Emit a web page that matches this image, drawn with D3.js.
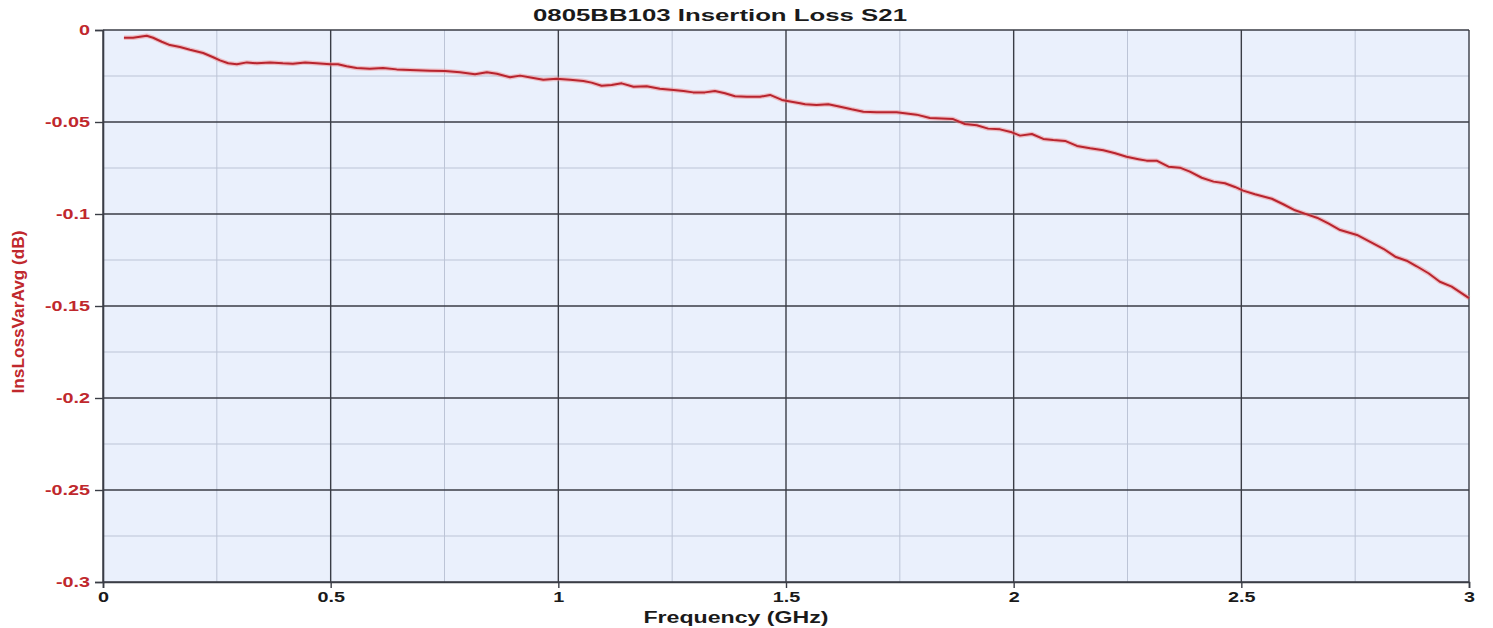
<!DOCTYPE html>
<html>
<head>
<meta charset="utf-8">
<script src="https://cdn.jsdelivr.net/npm/d3@7"></script>
<style>
  html, body { margin: 0; padding: 0; background: #ffffff; }
  svg { display: block; }
  text { font-family: "Liberation Sans", Arial, Helvetica, sans-serif; }
</style>
</head>
<body>
<svg id="chart" width="1493" height="628"></svg>
<script>
// Measured insertion loss of the 0805BB103 part, frequency in GHz, loss in dB
const freqGHz = [
  0.046, 0.066, 0.096, 0.110, 0.129, 0.147, 0.169, 0.191, 0.220, 0.242,
  0.257, 0.275, 0.294, 0.316, 0.338, 0.367, 0.395, 0.417, 0.444, 0.469,
  0.499, 0.516, 0.535, 0.557, 0.586, 0.615, 0.645, 0.674, 0.718, 0.751,
  0.784, 0.817, 0.843, 0.865, 0.894, 0.916, 0.942, 0.967, 0.996, 1.026,
  1.055, 1.073, 1.095, 1.117, 1.139, 1.165, 1.194, 1.223, 1.253, 1.275,
  1.296, 1.322, 1.344, 1.366, 1.388, 1.414, 1.443, 1.465, 1.491, 1.509,
  1.531, 1.542, 1.567, 1.593, 1.619, 1.644, 1.670, 1.699, 1.743, 1.787,
  1.816, 1.867, 1.893, 1.919, 1.944, 1.970, 1.996, 2.014, 2.040, 2.065,
  2.087, 2.113, 2.139, 2.168, 2.197, 2.223, 2.248, 2.274, 2.292, 2.314,
  2.340, 2.365, 2.387, 2.413, 2.439, 2.464, 2.486, 2.504, 2.530, 2.567,
  2.592, 2.618, 2.644, 2.666, 2.691, 2.717, 2.754, 2.783, 2.812, 2.838,
  2.863, 2.885, 2.911, 2.936, 2.962, 3.000
];
const insLossDB = [
  -0.0042, -0.0042, -0.0031, -0.0042, -0.0064, -0.0082, -0.0092, -0.0107, -0.0125, -0.0148,
  -0.0165, -0.0181, -0.0186, -0.0176, -0.0181, -0.0176, -0.0181, -0.0183, -0.0176, -0.0181,
  -0.0186, -0.0186, -0.0197, -0.0207, -0.0210, -0.0207, -0.0214, -0.0217, -0.0221, -0.0223,
  -0.0230, -0.0241, -0.0230, -0.0238, -0.0257, -0.0248, -0.0259, -0.0270, -0.0265, -0.0270,
  -0.0277, -0.0286, -0.0303, -0.0299, -0.0290, -0.0308, -0.0306, -0.0319, -0.0326, -0.0332,
  -0.0339, -0.0339, -0.0332, -0.0344, -0.0360, -0.0363, -0.0363, -0.0353, -0.0380, -0.0388,
  -0.0398, -0.0404, -0.0408, -0.0404, -0.0417, -0.0431, -0.0444, -0.0447, -0.0447, -0.0460,
  -0.0478, -0.0484, -0.0511, -0.0518, -0.0536, -0.0540, -0.0556, -0.0574, -0.0565, -0.0592,
  -0.0598, -0.0603, -0.0630, -0.0643, -0.0654, -0.0670, -0.0689, -0.0702, -0.0710, -0.0710,
  -0.0743, -0.0748, -0.0770, -0.0803, -0.0824, -0.0833, -0.0853, -0.0873, -0.0893, -0.0917,
  -0.0947, -0.0980, -0.1002, -0.1020, -0.1051, -0.1087, -0.1114, -0.1151, -0.1189, -0.1232,
  -0.1254, -0.1284, -0.1322, -0.1368, -0.1395, -0.1457
];

// Axis ticks
const xMajorTicks = [0, 0.5, 1, 1.5, 2, 2.5, 3];
const xMinorTicks = [0.25, 0.75, 1.25, 1.75, 2.25, 2.75];
const yMajorTicks = [0, -0.05, -0.1, -0.15, -0.2, -0.25, -0.3];
const yMinorTicks = [-0.025, -0.075, -0.125, -0.175, -0.225, -0.275];

const titleText = "0805BB103 Insertion Loss S21";
const xLabelText = "Frequency (GHz)";
const yLabelText = "InsLossVarAvg (dB)";

const svg = d3.select("#chart");
const margin = { left: 103, right: 24, top: 30, bottom: 46 };
const W = 1493, H = 628;
const plotW = W - margin.left - margin.right;
const plotH = H - margin.top - margin.bottom;

const x = d3.scaleLinear().domain([0, 3]).range([margin.left, margin.left + plotW]);
const y = d3.scaleLinear().domain([-0.3, 0]).range([margin.top + plotH, margin.top]);

// Plain hyphen-minus labels, e.g. "-0.05"
const fmt = d => d3.format("~g")(d).replace("\u2212", "-");
const stretch = 1.32;   // wide lettering of the labels

// Plot background
svg.append("rect")
  .attr("x", x(0)).attr("y", y(0))
  .attr("width", plotW).attr("height", plotH)
  .attr("fill", "#eaf0fc");

// Minor grid
const grid = svg.append("g");
grid.selectAll("line.xmin").data(xMinorTicks).enter().append("line")
  .attr("x1", d => x(d)).attr("x2", d => x(d))
  .attr("y1", y(0)).attr("y2", y(-0.3))
  .attr("stroke", "#bcc4d6").attr("stroke-width", 1);
grid.selectAll("line.ymin").data(yMinorTicks).enter().append("line")
  .attr("x1", x(0)).attr("x2", x(3))
  .attr("y1", d => y(d)).attr("y2", d => y(d))
  .attr("stroke", "#bcc4d6").attr("stroke-width", 1);

// Major grid
grid.selectAll("line.xmaj").data(xMajorTicks).enter().append("line")
  .attr("x1", d => x(d)).attr("x2", d => x(d))
  .attr("y1", y(0)).attr("y2", y(-0.3))
  .attr("stroke", "#3a3d46").attr("stroke-width", 1.4);
grid.selectAll("line.ymaj").data(yMajorTicks).enter().append("line")
  .attr("x1", x(0)).attr("x2", x(3))
  .attr("y1", d => y(d)).attr("y2", d => y(d))
  .attr("stroke", "#3a3d46").attr("stroke-width", 1.4);

// Axes
const xAxis = d3.axisBottom(x).tickValues(xMajorTicks).tickSize(6).tickPadding(3)
  .tickFormat(fmt);
const gx = svg.append("g").attr("transform", `translate(0,${y(-0.3)})`).call(xAxis);
gx.select(".domain").attr("stroke", "#3a3d46").attr("stroke-width", 1.6);
gx.selectAll(".tick line").attr("stroke", "#3a3d46").attr("stroke-width", 1.4);
gx.selectAll(".tick text")
  .attr("fill", "#1a1a1a").attr("font-size", 15).attr("font-weight", "bold")
  .attr("transform", `scale(${stretch},1)`)
  .style("font-family", "'Liberation Sans', Arial, sans-serif");

const yAxis = d3.axisLeft(y).tickValues(yMajorTicks).tickSize(8).tickPadding(5)
  .tickFormat(fmt);
const gy = svg.append("g").attr("transform", `translate(${x(0)},0)`).call(yAxis);
gy.select(".domain").attr("stroke", "#3a3d46").attr("stroke-width", 1.6);
gy.selectAll(".tick line").attr("stroke", "#3a3d46").attr("stroke-width", 1.4);
gy.selectAll(".tick text")
  .attr("fill", "#c0282d").attr("font-size", 15).attr("font-weight", "bold")
  .attr("dy", "0.3em")
  .attr("x", -13 / stretch)
  .attr("transform", `scale(${stretch},1)`)
  .style("font-family", "'Liberation Sans', Arial, sans-serif");

// Loss curve with a soft halo
const pts = freqGHz.map((f, i) => [f, insLossDB[i]]);
const line = d3.line().x(d => x(d[0])).y(d => y(d[1]));
svg.append("path").datum(pts)
  .attr("d", line).attr("fill", "none")
  .attr("stroke", "#f08a8c").attr("stroke-opacity", 0.5)
  .attr("stroke-width", 4.5).attr("stroke-linejoin", "round");
svg.append("path").datum(pts)
  .attr("d", line).attr("fill", "none")
  .attr("stroke", "#b8242e").attr("stroke-width", 2)
  .attr("stroke-linejoin", "round");

// Titles
svg.append("text")
  .attr("x", 720).attr("y", 21)
  .attr("text-anchor", "middle")
  .attr("font-size", 17).attr("font-weight", "bold").attr("fill", "#1a1a1a")
  .attr("textLength", 374).attr("lengthAdjust", "spacingAndGlyphs")
  .text(titleText);

svg.append("text")
  .attr("x", 736).attr("y", 623)
  .attr("text-anchor", "middle")
  .attr("font-size", 16).attr("font-weight", "bold").attr("fill", "#1a1a1a")
  .attr("textLength", 185).attr("lengthAdjust", "spacingAndGlyphs")
  .text(xLabelText);

svg.append("text")
  .attr("transform", `translate(24,${(y(0) + y(-0.3)) / 2 + 6}) rotate(-90)`)
  .attr("text-anchor", "middle")
  .attr("font-size", 16).attr("font-weight", "bold").attr("fill", "#c0282d")
  .attr("textLength", 163).attr("lengthAdjust", "spacingAndGlyphs")
  .text(yLabelText);
</script>
</body>
</html>
